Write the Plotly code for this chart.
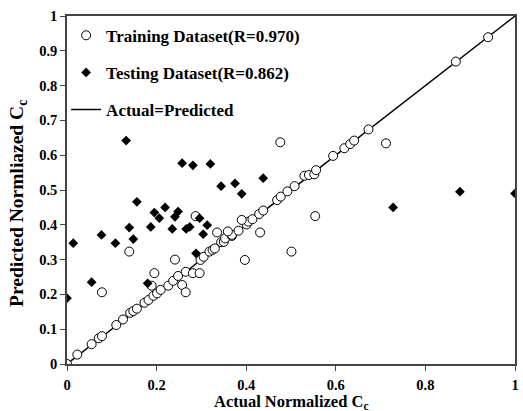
import plotly.graph_objects as go

train_x = [0.0, 0.023, 0.055, 0.071, 0.078, 0.110, 0.125, 0.141, 0.148, 0.156, 0.173, 0.182, 0.193, 0.201,
           0.209, 0.226, 0.237, 0.248, 0.265, 0.298, 0.305, 0.318, 0.325, 0.330, 0.344, 0.350, 0.353, 0.368,
           0.368, 0.383, 0.401, 0.405, 0.414, 0.429, 0.438, 0.469, 0.477, 0.492, 0.508, 0.530, 0.540, 0.552,
           0.556, 0.594, 0.619, 0.632, 0.641, 0.673, 0.868, 0.940,
           0.078, 0.139, 0.189, 0.195, 0.241, 0.257, 0.265, 0.281, 0.296, 0.287, 0.335, 0.359, 0.390, 0.397,
           0.431, 0.476, 0.501, 0.554, 0.712]
train_y = [0.0, 0.027, 0.057, 0.074, 0.080, 0.112, 0.128, 0.147, 0.152, 0.159, 0.176, 0.184, 0.196, 0.203,
           0.213, 0.225, 0.239, 0.253, 0.265, 0.299, 0.308, 0.323, 0.328, 0.332, 0.350, 0.351, 0.361, 0.368,
           0.371, 0.383, 0.401, 0.409, 0.416, 0.431, 0.441, 0.471, 0.481, 0.496, 0.511, 0.541, 0.543, 0.545,
           0.557, 0.598, 0.620, 0.632, 0.642, 0.674, 0.869, 0.939,
           0.206, 0.323, 0.225, 0.261, 0.300, 0.227, 0.206, 0.261, 0.261, 0.425, 0.378, 0.381, 0.414, 0.299,
           0.378, 0.637, 0.323, 0.425, 0.634]

test_x = [0.0, 0.014, 0.055, 0.077, 0.108, 0.132, 0.139, 0.148, 0.156, 0.180, 0.187, 0.195, 0.206, 0.219,
          0.235, 0.241, 0.248, 0.257, 0.266, 0.274, 0.281, 0.288, 0.296, 0.304, 0.313, 0.320, 0.344, 0.375,
          0.390, 0.438, 0.728, 0.877, 1.0]
test_y = [0.189, 0.347, 0.235, 0.371, 0.347, 0.642, 0.392, 0.359, 0.466, 0.232, 0.394, 0.435, 0.419, 0.450,
          0.388, 0.423, 0.438, 0.577, 0.388, 0.394, 0.571, 0.318, 0.419, 0.373, 0.399, 0.575, 0.511, 0.519,
          0.489, 0.534, 0.450, 0.495, 0.490]

line_x = [0, 1]
line_y = [0, 1]

tick_vals_x = [0, 0.2, 0.4, 0.6, 0.8, 1]
tick_text_x = ["0", "0.2", "0.4", "0.6", "0.8", "1"]
tick_vals_y = [0, 0.1, 0.2, 0.3, 0.4, 0.5, 0.6, 0.7, 0.8, 0.9, 1]
tick_text_y = ["0", "0.1", "0.2", "0.3", "0.4", "0.5", "0.6", "0.7", "0.8", "0.9", "1"]

x_title = "Actual Normalized C<sub>c</sub>"
y_title = "Predicted Normliazed C<sub>c</sub>"

FONT = "Liberation Serif"

fig = go.Figure()
fig.add_trace(go.Scatter(x=line_x, y=line_y, mode="lines", name="<b>Actual=Predicted</b>",
                         line=dict(color="black", width=1.4), legendrank=3, legendgroup="c"))
fig.add_trace(go.Scatter(x=train_x, y=train_y, mode="markers", name="<b>Training Dataset(R=0.970)</b>",
                         marker=dict(symbol="circle", size=9, color="white",
                                     line=dict(color="black", width=1)),
                         legendrank=1, legendgroup="a"))
fig.add_trace(go.Scatter(x=test_x, y=test_y, mode="markers", name="<b>Testing Dataset(R=0.862)</b>",
                         marker=dict(symbol="diamond", size=7.5, color="black",
                                     line=dict(color="black", width=0)),
                         legendrank=2, legendgroup="b"))

axis_common = dict(showline=True, linecolor="#444", linewidth=1.5, mirror=True, ticks="outside",
                   ticklen=5, tickcolor="#444", showgrid=False, zeroline=False,
                   tickfont=dict(family=FONT, size=14.5, color="black"))

fig.update_layout(
    width=523, height=411,
    margin=dict(l=67, r=4, t=16, b=47),
    paper_bgcolor="white", plot_bgcolor="white",
    font=dict(family=FONT, color="black"),
    showlegend=True,
    legend=dict(x=-0.002, y=0.995, xanchor="left", yanchor="top", bgcolor="rgba(0,0,0,0)",
                font=dict(family=FONT, size=17, color="black"), tracegroupgap=12,
                itemwidth=30),
    xaxis=dict(range=[0, 1], tickvals=tick_vals_x, ticktext=["<b>%s</b>" % t for t in tick_text_x],
               ticklabelstandoff=2, **axis_common),
    yaxis=dict(range=[0, 1], tickvals=tick_vals_y, ticktext=["<b>%s</b>" % t for t in tick_text_y],
               **axis_common),
    annotations=[
        dict(text="<b>%s</b>" % x_title, xref="paper", yref="paper", x=0.5, y=0, xanchor="center",
             yanchor="middle", yshift=-38, showarrow=False, font=dict(family=FONT, size=16.5)),
        dict(text="<b>%s</b>" % y_title, xref="paper", yref="paper", x=0, y=0.46, xanchor="center",
             yanchor="middle", xshift=-49, textangle=-90, showarrow=False, font=dict(family=FONT, size=19.5)),
    ],
)

fig.write_html("out.html")
